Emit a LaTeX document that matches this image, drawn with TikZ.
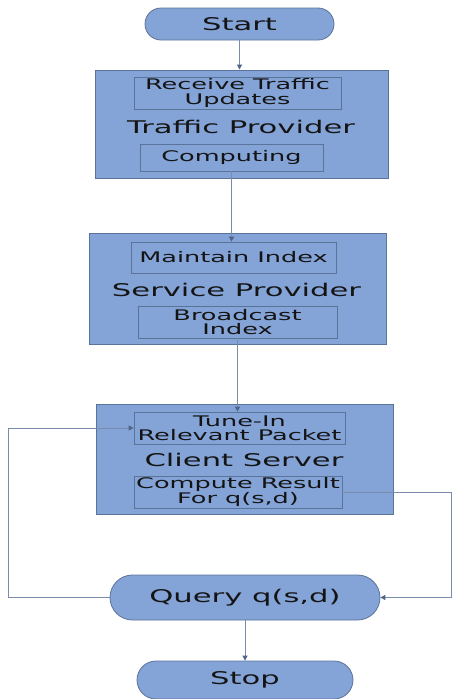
\documentclass[tikz,border=0pt]{standalone}
\usepackage{fontspec}
\newfontfamily\dfont[FakeStretch=1.75]{DejaVu Sans}
\usetikzlibrary{shapes.misc,arrows.meta}
\definecolor{fillb}{HTML}{84A3D6}
\definecolor{edgeb}{HTML}{5A7398}
\definecolor{lineb}{HTML}{7A8CAC}
\definecolor{tipb}{HTML}{4E6488}
\definecolor{textc}{HTML}{141414}
\begin{document}
\begin{tikzpicture}[x=1pt,y=-1pt,
  outerbox/.style={draw=edgeb,fill=fillb,line width=0.9pt,minimum width=#1,inner sep=0pt},
  innerbox/.style={draw=edgeb,fill=fillb,line width=0.7pt,inner sep=0pt,align=center,
     font=\dfont\fontsize{14.6}{14.3}\selectfont,text=textc},
  term/.style={rounded rectangle,draw=edgeb,fill=fillb,line width=0.8pt,inner sep=0pt,
     font=\dfont\fontsize{17.5}{18}\selectfont,text=textc},
  title/.style={font=\dfont\fontsize{17.5}{18}\selectfont,text=textc,inner sep=0pt},
  conn/.style={draw=lineb,line width=1pt},
  arr/.style={conn,-{Triangle[width=5pt,length=5pt,color=tipb]}}]
\useasboundingbox (0,0) rectangle (452,699);
% terminals
\node[term,minimum width=189pt,minimum height=32pt] (start) at (239.5,24) {Start};
\node[term,minimum width=270pt,minimum height=45pt] (query) at (245,597.5) {Query q(s,d)};
\node[term,minimum width=216pt,minimum height=38pt] (stop) at (245,680) {Stop};
% Traffic provider
\node[outerbox=293pt,minimum height=108pt] (tp) at (241.5,124) {};
\node[innerbox,minimum width=207pt,minimum height=32pt] (recv) at (237.5,93) {Receive Traffic\\Updates};
\node[title] (tpt) at (241,127) {Traffic Provider};
\node[innerbox,minimum width=183pt,minimum height=27pt] (comp) at (231.5,157.5) {Computing};
% Service provider
\node[outerbox=297pt,minimum height=111pt] (sp) at (237.5,288.5) {};
\node[innerbox,minimum width=205pt,minimum height=31pt] (maint) at (233.5,257.5) {Maintain Index};
\node[title] (spt) at (236.5,290) {Service Provider};
\node[innerbox,minimum width=199pt,minimum height=32pt] (bcast) at (237.5,322) {Broadcast\\Index};
% Client server
\node[outerbox=297pt,minimum height=110pt] (cs) at (244.5,459) {};
\node[innerbox,minimum width=211pt,minimum height=32pt] (tune) at (239.5,428) {Tune-In\\Relevant Packet};
\node[title] (cst) at (244,460) {Client Server};
\node[innerbox,minimum width=208pt,minimum height=32pt] (cres) at (238,492) {Compute Result\\For q(s,d)};
% corner coordinates
\coordinate (r1) at (451,492);
\coordinate (l1) at (8,597.5);
% connectors
\draw[arr] (start.south) -- (start.south |- tp.north);
\draw[arr] (comp.south) -- (comp.south |- maint.north);
\draw[arr] (bcast.south) -- (bcast.south |- tune.north);
\draw[arr] (cres.east) -- (r1) |- (query.east);
\draw[arr] (query.west) -- (l1) |- (tune.west);
\draw[arr] (query.south) -- (stop.north);
\end{tikzpicture}
\end{document}
